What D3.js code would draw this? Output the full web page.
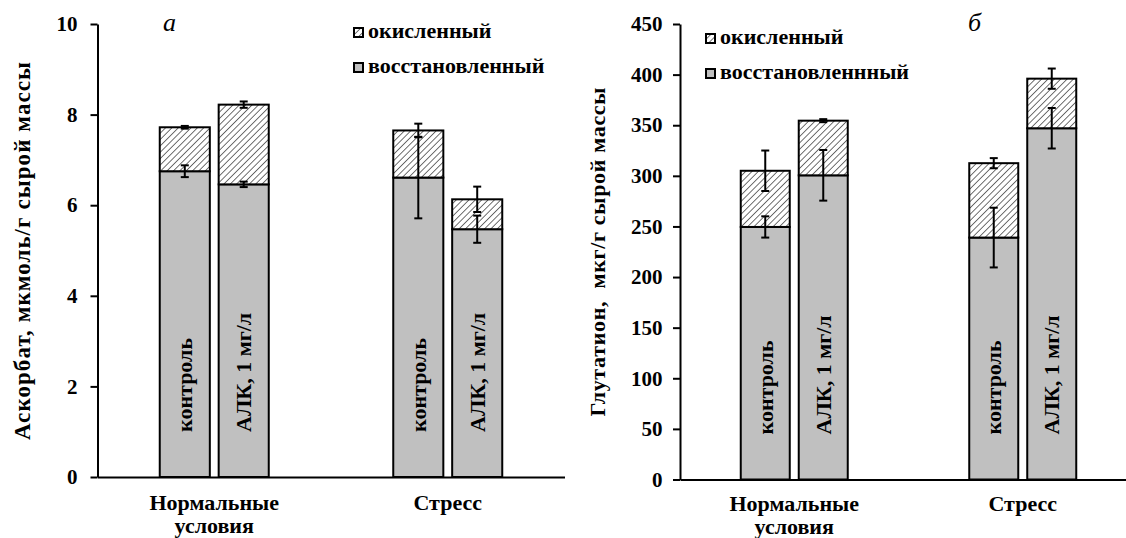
<!DOCTYPE html>
<html>
<head>
<meta charset="utf-8">
<script src="https://cdn.jsdelivr.net/npm/d3@7"></script>
<style>
    body { margin: 0; background: #fff; }
    svg { display: block; }
    svg text { font-family: "Liberation Serif", "Tinos", "Times New Roman", "DejaVu Serif", serif; font-weight: bold; fill: #000; }
    .axis path, .axis line { stroke: #000; stroke-width: 2; }
    .axis text { font-size: 21px; }
</style>
</head>
<body>
<div id="chart"></div>
<script>

// categories
let groupLabels = [["Нормальные", "условия"], ["Стресс"]];
let treatments = ["контроль", "АЛК, 1 мг/л"];
let legendNames = ["окисленный", "восстановленный"];
let legendNamesB = ["окисленный", "восстановленнный"];

// panel a - ascorbate, order: norm/control, norm/ALA, stress/control, stress/ALA
let ascReduced = [6.75, 6.46, 6.61, 5.47];
let ascReducedErr = [0.13, 0.06, 0.90, 0.30];
let ascOxidized = [0.97, 1.76, 1.04, 0.66];
let ascTotalErr = [0.03, 0.07, 0.15, 0.28];
let ascTicks = [0, 2, 4, 6, 8, 10];

// panel b - glutathione
let gshReduced = [249.5, 300.5, 239, 347];
let gshReducedErr = [10.5, 25, 29.5, 20];
let gshOxidized = [55.5, 54, 73.5, 49];
let gshTotalErr = [20, 1.5, 5, 10];
let gshTicks = [0, 50, 100, 150, 200, 250, 300, 350, 400, 450];

let width = 1126;
let height = 538;

let svg = d3.select("#chart")
    .append("svg")
    .attr("width", width)
    .attr("height", height);

/* hatch for oxidized part */
svg.append("defs")
    .append("pattern")
    .attr("id", "hatch")
    .attr("patternUnits", "userSpaceOnUse")
    .attr("width", 4.5)
    .attr("height", 4.5)
    .attr("patternTransform", "rotate(45)")
    .call(function (p) {
        p.append("rect").attr("width", 4.5).attr("height", 4.5).attr("fill", "#fff");
        p.append("line").attr("x1", 0).attr("y1", 0).attr("x2", 0).attr("y2", 4.5)
            .attr("stroke", "#222").attr("stroke-width", 1.3);
    });

function drawPanel(cfg) {
    let g = svg.append("g");

    let yScale = d3.scaleLinear()
        .domain([0, cfg.ticks[cfg.ticks.length - 1]])
        .range([cfg.y0, cfg.y1]);

    let xScale = d3.scalePoint()
        .domain(d3.range(groupLabels.length))
        .range([cfg.x0, cfg.x1])
        .padding(0.5);

    let inner = d3.scaleBand()
        .domain(d3.range(treatments.length))
        .range([-cfg.inner, cfg.inner])
        .paddingInner(cfg.pad);

    // rows for each bar
    let rows = cfg.reduced.map(function (v, i) {
        return {
            group: Math.floor(i / treatments.length),
            treat: i % treatments.length,
            red: v,
            redErr: cfg.reducedErr[i],
            total: v + cfg.oxidized[i],
            totalErr: cfg.totalErr[i]
        };
    });

    let barX = function (d) { return xScale(d.group) + inner(d.treat); };
    let bw = inner.bandwidth();

    /* x axis (no ticks) */
    g.append("g")
        .attr("class", "axis")
        .attr("transform", "translate(0," + cfg.y0 + ")")
        .call(d3.axisBottom(xScale).tickSize(0).tickSizeOuter(0).tickFormat(""));

    // reduced part
    g.selectAll(".red")
        .data(rows)
        .enter().append("rect")
        .attr("x", barX)
        .attr("width", bw)
        .attr("y", function (d) { return yScale(d.red); })
        .attr("height", function (d) { return yScale(0) - yScale(d.red); })
        .attr("fill", "#c0c0c0")
        .attr("stroke", "#000")
        .attr("stroke-width", 2);

    // oxidized part
    g.selectAll(".ox")
        .data(rows)
        .enter().append("rect")
        .attr("x", barX)
        .attr("width", bw)
        .attr("y", function (d) { return yScale(d.total); })
        .attr("height", function (d) { return yScale(d.red) - yScale(d.total); })
        .attr("fill", "url(#hatch)")
        .attr("stroke", "#000")
        .attr("stroke-width", 2);

    // error bars
    let errs = [];
    rows.forEach(function (d) {
        errs.push({ x: barX(d) + bw / 2, v: d.red, e: d.redErr });
        errs.push({ x: barX(d) + bw / 2, v: d.total, e: d.totalErr });
    });
    let eg = g.selectAll(".err")
        .data(errs)
        .enter().append("g")
        .attr("stroke", "#000")
        .attr("stroke-width", 2);
    eg.append("line")
        .attr("x1", function (d) { return d.x; })
        .attr("x2", function (d) { return d.x; })
        .attr("y1", function (d) { return yScale(d.v - d.e); })
        .attr("y2", function (d) { return yScale(d.v + d.e); });
    [-1, 1].forEach(function (s) {
        eg.append("line")
            .attr("x1", function (d) { return d.x - 4; })
            .attr("x2", function (d) { return d.x + 4; })
            .attr("y1", function (d) { return yScale(d.v + s * d.e); })
            .attr("y2", function (d) { return yScale(d.v + s * d.e); });
    });

    // treatment labels inside bars
    g.selectAll(".blabel")
        .data(rows)
        .enter().append("text")
        .attr("transform", function (d) {
            return "translate(" + (barX(d) + bw / 2) + "," + (cfg.y0 - 45) + ") rotate(-90)";
        })
        .attr("dy", "0.35em")
        .attr("font-size", 22)
        .text(function (d) { return treatments[d.treat]; });

    /* y axis */
    g.append("g")
        .attr("class", "axis")
        .attr("transform", "translate(" + cfg.x0 + ",0)")
        .call(d3.axisLeft(yScale).tickValues(cfg.ticks).tickSize(7).tickPadding(cfg.tickPad).tickSizeOuter(0));

    // group labels
    groupLabels.forEach(function (lines, gi) {
        let t = g.append("text")
            .attr("text-anchor", "middle")
            .attr("font-size", 22);
        lines.forEach(function (ln, li) {
            t.append("tspan")
                .attr("x", xScale(gi))
                .attr("y", cfg.labelY + li * 23)
                .text(ln);
        });
    });

    // y title
    g.append("text")
        .attr("transform", "translate(" + cfg.titleX + "," + cfg.titleY + ") rotate(-90)")
        .attr("text-anchor", "middle")
        .attr("dy", "0.35em")
        .attr("font-size", cfg.titleSize)
        .attr("textLength", cfg.titleLen)
        .attr("lengthAdjust", "spacing")
        .style("white-space", "pre")
        .text(cfg.title);

    // panel letter
    g.append("text")
        .attr("x", cfg.letterX)
        .attr("y", 31)
        .attr("font-size", 26)
        .style("font-weight", "normal")
        .style("font-style", "italic")
        .text(cfg.letter);

    // legend
    let fills = ["url(#hatch)", "#c0c0c0"];
    cfg.legend.forEach(function (name, i) {
        let ly = cfg.legendY[i];
        g.append("rect")
            .attr("x", cfg.legendX)
            .attr("y", ly - 10)
            .attr("width", 9)
            .attr("height", 9)
            .attr("fill", fills[i])
            .attr("stroke", "#000")
            .attr("stroke-width", 2);
        g.append("text")
            .attr("x", cfg.legendX + 14)
            .attr("y", ly)
            .attr("font-size", 22)
            .text(name);
    });
}

drawPanel({
    reduced: ascReduced, reducedErr: ascReducedErr, oxidized: ascOxidized, totalErr: ascTotalErr,
    ticks: ascTicks, y0: 477, y1: 24, x0: 97.5, x1: 564.5, inner: 54.5, pad: 0.15, tickPad: 13,
    title: "Аскорбат, мкмоль/г сырой массы", titleX: 22, titleY: 251, titleSize: 23, titleLen: 378,
    letter: "а", letterX: 163, labelY: 510,
    legend: legendNames, legendX: 354, legendY: [38, 73]
});

drawPanel({
    reduced: gshReduced, reducedErr: gshReducedErr, oxidized: gshOxidized, totalErr: gshTotalErr,
    ticks: gshTicks, y0: 479.5, y1: 24, x0: 680, x1: 1137, inner: 53.5, pad: 0.155, tickPad: 10.5,
    title: "Глутатион,  мкг/г сырой массы", titleX: 597, titleY: 252, titleSize: 22, titleLen: 329,
    letter: "б", letterX: 968, labelY: 511,
    legend: legendNamesB, legendX: 706, legendY: [44, 79]
});

</script>
</body>
</html>
